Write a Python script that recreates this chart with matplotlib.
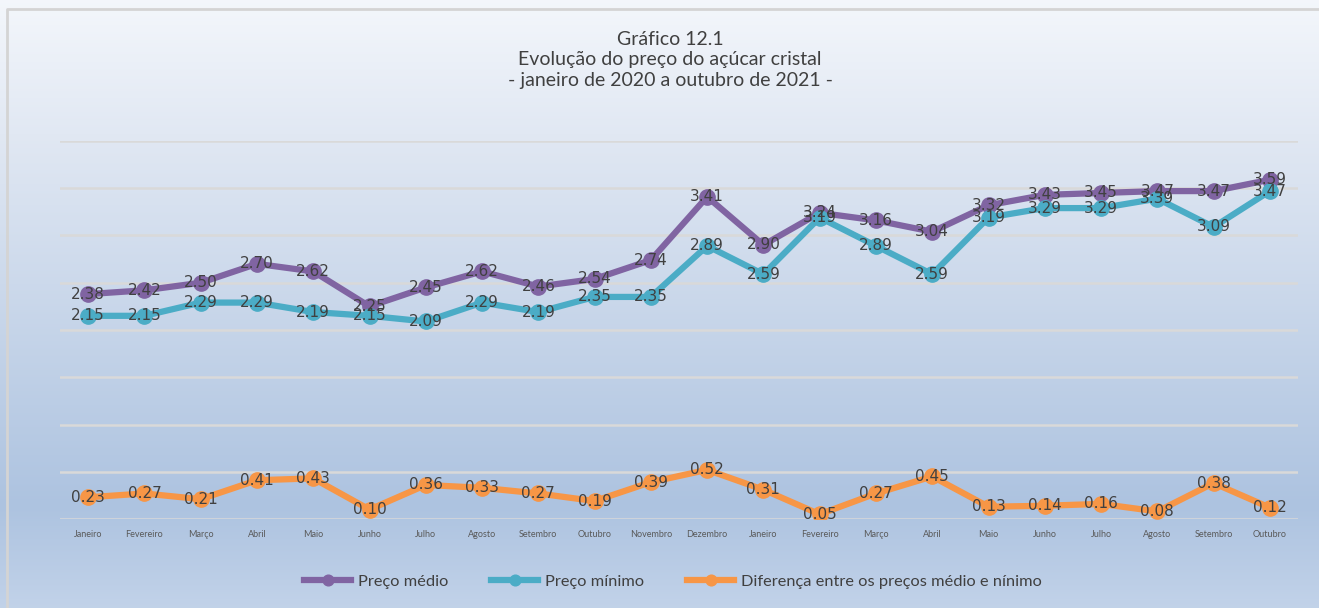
import numpy as np
import matplotlib.pyplot as plt
from matplotlib.colors import LinearSegmentedColormap

# dados
meses = ['Janeiro', 'Fevereiro', 'Março', 'Abril', 'Maio', 'Junho', 'Julho',
         'Agosto', 'Setembro', 'Outubro', 'Novembro', 'Dezembro',
         'Janeiro', 'Fevereiro', 'Março', 'Abril', 'Maio', 'Junho', 'Julho',
         'Agosto', 'Setembro', 'Outubro']
preco_medio = [2.38, 2.42, 2.50, 2.70, 2.62, 2.25, 2.45, 2.62, 2.46, 2.54, 2.74,
               3.41, 2.90, 3.24, 3.16, 3.04, 3.32, 3.43, 3.45, 3.47, 3.47, 3.59]
preco_minimo = [2.15, 2.15, 2.29, 2.29, 2.19, 2.15, 2.09, 2.29, 2.19, 2.35, 2.35,
                2.89, 2.59, 3.19, 2.89, 2.59, 3.19, 3.29, 3.29, 3.39, 3.09, 3.47]
diferenca = [0.23, 0.27, 0.21, 0.41, 0.43, 0.10, 0.36, 0.33, 0.27, 0.19, 0.39,
             0.52, 0.31, 0.05, 0.27, 0.45, 0.13, 0.14, 0.16, 0.08, 0.38, 0.12]

fonte = ['Lato', 'DejaVu Sans']
fonte_rotulo = ['Liberation Sans Narrow', 'DejaVu Sans']

fig = plt.figure(figsize=(13.19, 6.08), dpi=100)

# fundo em degradê + moldura (só topo e esquerda aparecem)
bg = fig.add_axes([0, 0, 1, 1], zorder=-10)
cmap = LinearSegmentedColormap.from_list(
    'fundo', [(0.0, '#f5f8fc'), (0.23, '#e1e8f3'), (0.82, '#adc3e0'), (1.0, '#c4d4ea')])
grad = np.linspace(0, 1, 256).reshape(-1, 1)
bg.imshow(grad, aspect='auto', cmap=cmap, extent=[-0.02, 1.02, 1.02, -0.02])
bg.set_xlim(0, 1)
bg.set_ylim(1, 0)
bg.plot([7 / 1319, 7 / 1319, 1.02], [1.02, 9 / 608, 9 / 608], color='#d4d4d4', linewidth=2)
bg.axis('off')

ax = fig.add_axes([60 / 1319, 89 / 608, 1238 / 1319, 378 / 608])
ax.patch.set_alpha(0)
x = np.arange(len(meses))

series = [
    (preco_medio, '#8064a2', 'Preço médio'),
    (preco_minimo, '#4bacc6', 'Preço mínimo'),
    (diferenca, '#f79646', 'Diferença entre os preços médio e nínimo'),
]
for vals, cor, nome in series:
    ax.plot(x, vals, color=cor, linewidth=4.5, marker='o', markersize=11,
            label=nome, zorder=3)
    for xi, v in zip(x, vals):
        ax.text(xi, v, f'{v:.2f}', ha='center', va='center', fontsize=11,
                color='#404040', family=fonte_rotulo, zorder=4)

ax.set_ylim(0, 4)
ax.set_xlim(-0.5, len(meses) - 0.5)
ax.set_yticks(np.arange(0, 4.01, 0.5))
ax.yaxis.grid(True, color='#d9d9d9', linewidth=1.8)
ax.set_axisbelow(True)
ax.tick_params(axis='y', left=False, labelleft=False)
ax.set_xticks(x)
ax.set_xticklabels(meses, fontsize=6.5, color='#595959', family=fonte)
ax.tick_params(axis='x', length=0, pad=8)
for s in ax.spines.values():
    s.set_visible(False)

fig.text(0.508, 1 - 60 / 608, 'Gráfico 12.1\nEvolução do preço do açúcar cristal\n'
         '- janeiro de 2020 a outubro de 2021 -', ha='center', va='center',
         fontsize=14, color='#404040', family=fonte, linespacing=1.22)

leg = ax.legend(loc='center', bbox_to_anchor=(0.495, -0.165), ncol=3, frameon=False,
                handlelength=2.9, handletextpad=0.4, columnspacing=2.6, markerscale=0.7,
                prop={'family': fonte, 'size': 11.8})
for t in leg.get_texts():
    t.set_color('#404040')

fig.savefig('out.png', dpi=100)
